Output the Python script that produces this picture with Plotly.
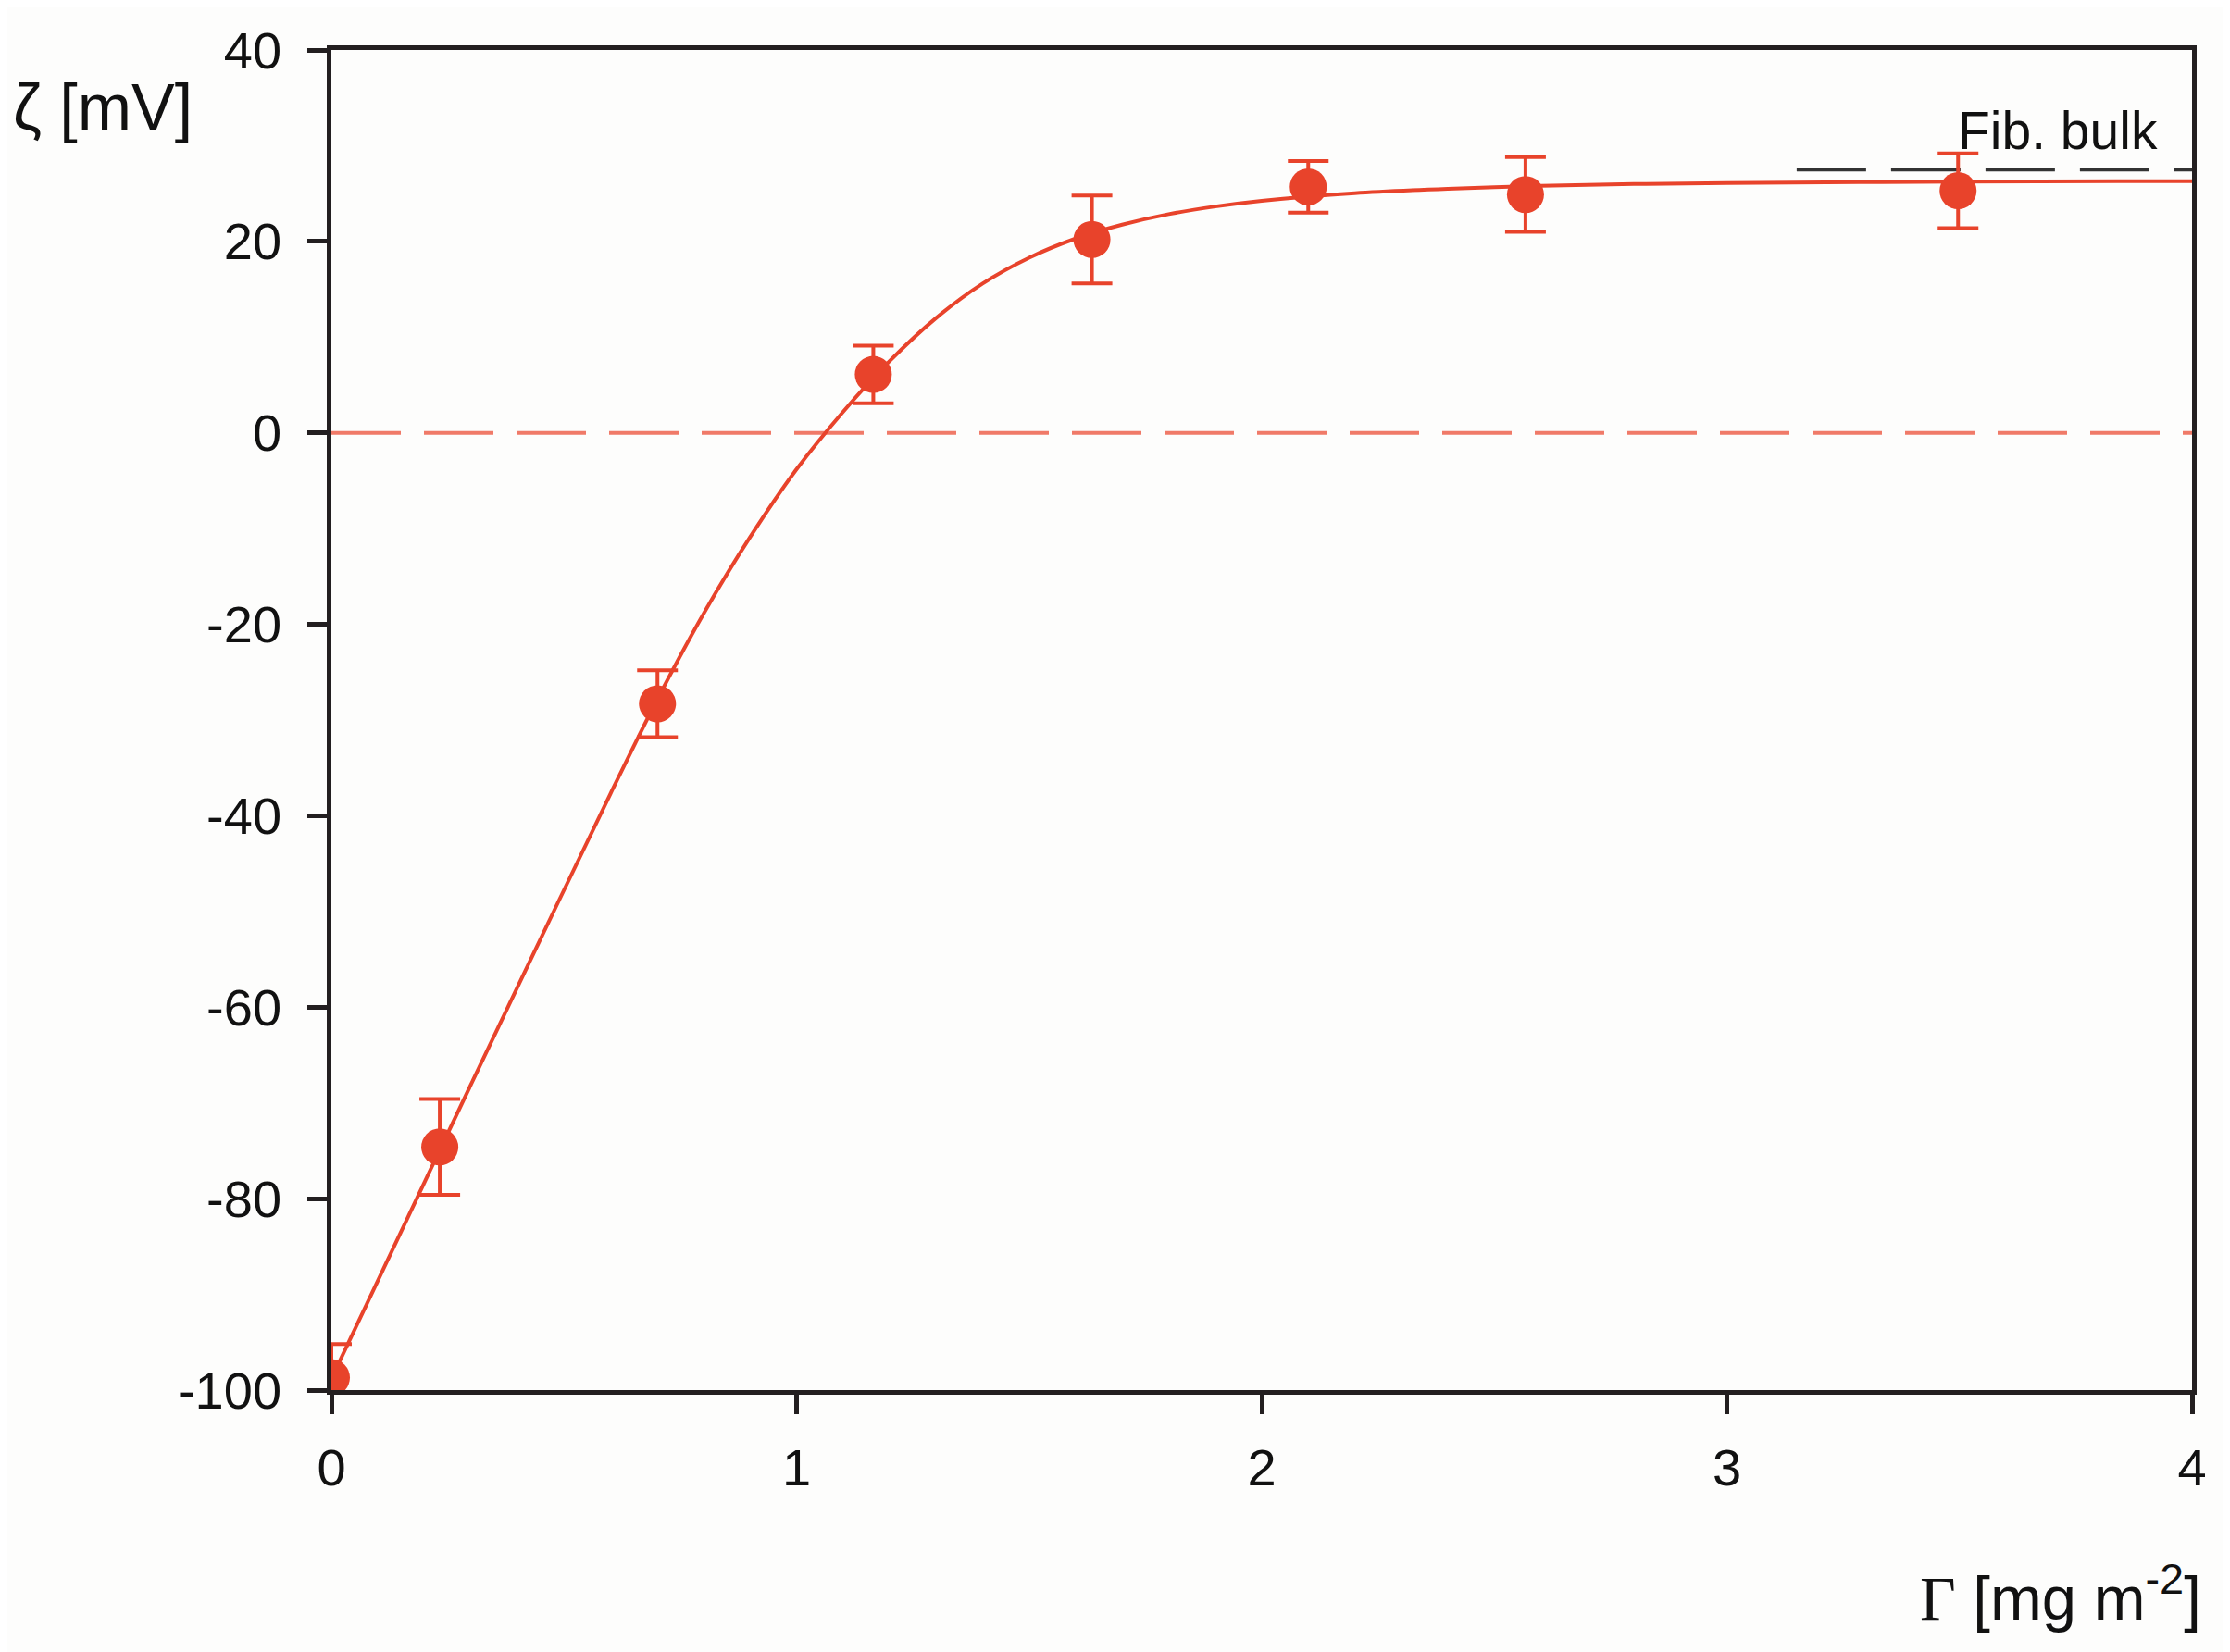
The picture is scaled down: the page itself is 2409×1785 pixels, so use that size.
import plotly.graph_objects as go

# Measured data points: adsorbed amount Γ [mg m^-2] vs zeta potential ζ [mV]
gamma = [0.0, 0.233, 0.701, 1.165, 1.635, 2.100, 2.567, 3.497]
zeta = [-98.7, -74.6, -28.3, 6.1, 20.2, 25.7, 24.9, 25.3]
zeta_err = [3.5, 5.0, 3.5, 3.0, 4.6, 2.7, 3.9, 3.9]

# Fitted curve
fit_x = [0.0, 0.2, 0.4, 0.6, 0.7, 0.8, 0.9, 1.0, 1.1, 1.2, 1.3, 1.4, 1.5, 1.6,
         1.7, 1.8, 1.9, 2.0, 2.2, 2.4, 2.6, 2.8, 3.0, 3.5, 4.0]
fit_y = [-98.8, -78.3, -57.9, -37.7, -27.9, -18.9, -10.9, -3.8, 2.2, 7.5, 12.0,
         15.6, 18.3, 20.3, 21.75, 22.85, 23.65, 24.25, 25.05, 25.5, 25.8, 26.0,
         26.1, 26.25, 26.3]

# Reference levels
zero_x = [0.0, 4.0]
zero_y = [0.0, 0.0]
bulk_x = [3.15, 4.02]
bulk_y = [27.5, 27.5]
bulk_label = "Fib. bulk"
bulk_label_x = 3.93

x_ticks = [0, 1, 2, 3, 4]
y_ticks = [-100, -80, -60, -40, -20, 0, 20, 40]

RED = "#E8432B"
FONT = "Liberation Sans, Arial, sans-serif"
AX = "#231f20"
TXT = "#111111"

fig = go.Figure()

fig.add_trace(go.Scatter(x=zero_x, y=zero_y, mode="lines",
                         line=dict(color="#F07A68", width=4, dash="75px,25px"),
                         showlegend=False, hoverinfo="skip"))
fig.add_trace(go.Scatter(x=bulk_x, y=bulk_y, mode="lines",
                         line=dict(color="#333333", width=4, dash="75px,27px"),
                         showlegend=False, hoverinfo="skip"))
fig.add_trace(go.Scatter(x=fit_x, y=fit_y, mode="lines",
                         line=dict(color=RED, width=4, shape="spline", smoothing=0.9),
                         showlegend=False))
fig.add_trace(go.Scatter(x=gamma, y=zeta, mode="markers",
                         marker=dict(color=RED, size=40, line=dict(width=0)),
                         error_y=dict(type="data", array=zeta_err, visible=True,
                                      color=RED, thickness=4, width=22),
                         cliponaxis=True, showlegend=False))

fig.add_annotation(x=bulk_label_x, y=bulk_y[0], xref="x", yref="y",
                   text=bulk_label, showarrow=False, xanchor="right", yanchor="bottom",
                   yshift=8, font=dict(family=FONT, size=57, color=TXT))

fig.add_annotation(xref="paper", yref="paper", x=-0.172, y=0.957,
                   text="ζ [mV]", showarrow=False, xanchor="left", yanchor="middle",
                   font=dict(family=FONT, size=70, color=TXT))
fig.add_annotation(xref="paper", yref="paper", x=1.006, y=-0.152,
                   text="<span style='font-family:Liberation Serif, Times New Roman, serif'>Γ</span> [mg m<sup>-2</sup>]",
                   showarrow=False, xanchor="right", yanchor="middle",
                   font=dict(family=FONT, size=67, color=TXT))

axis_common = dict(showline=True, linecolor=AX, linewidth=4.5, mirror=True,
                   ticks="outside", ticklen=21, tickwidth=4.5, tickcolor=AX,
                   showgrid=False, zeroline=False,
                   tickfont=dict(family=FONT, size=56, color=TXT))

fig.update_xaxes(range=[0, 4], tickvals=x_ticks, ticktext=[str(v) for v in x_ticks],
                 ticklabelstandoff=10, **axis_common)
fig.update_yaxes(range=[-100, 40], tickvals=y_ticks, ticktext=[str(v) for v in y_ticks],
                 ticklabelstandoff=17, **axis_common)

# page body adds an 8 px offset; margins compensate so the plot area sits where the reference has it
fig.update_layout(width=2409, height=1785,
                  margin=dict(l=350, r=49, t=46, b=291),
                  paper_bgcolor="#fdfdfc", plot_bgcolor="#fdfdfc",
                  showlegend=False)

fig.write_html("out.html")
